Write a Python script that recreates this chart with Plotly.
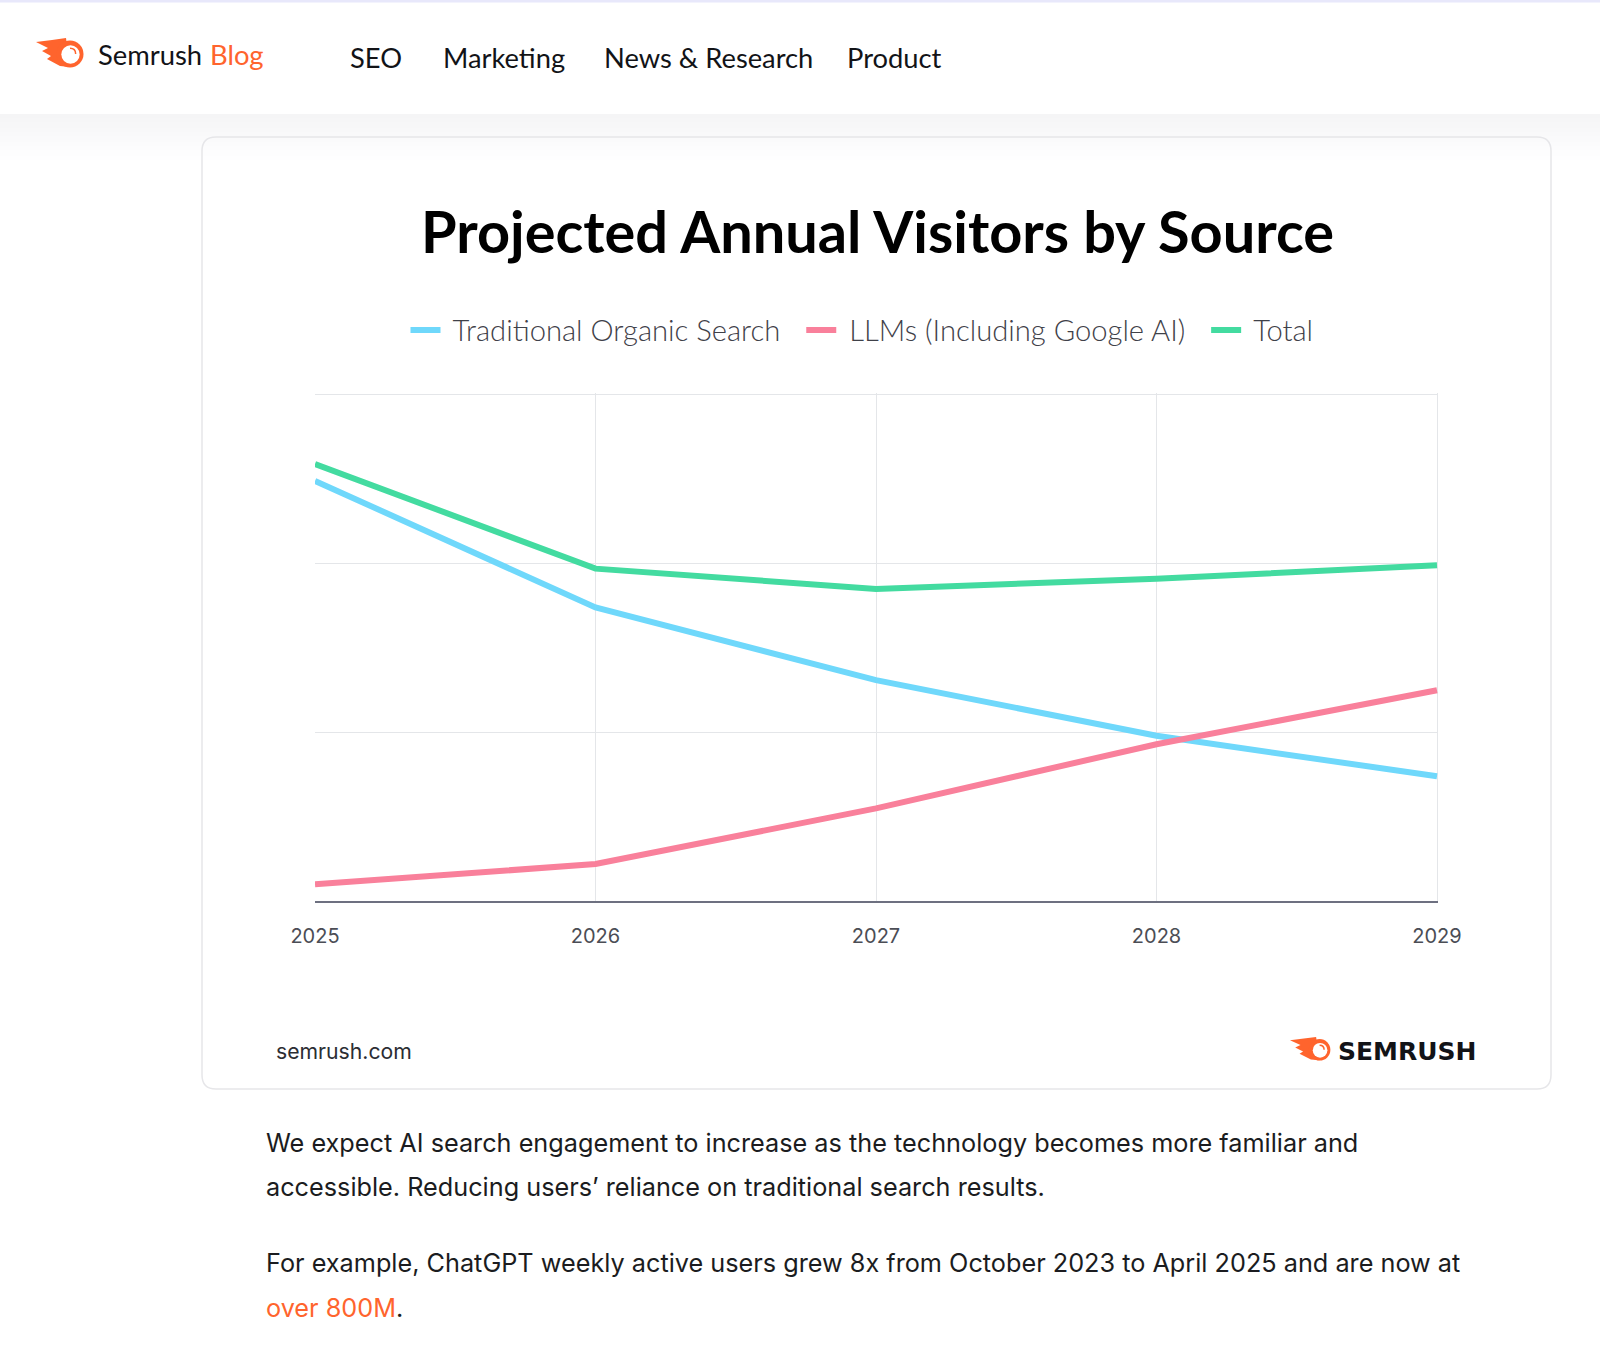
import plotly.graph_objects as go

W = 1600
H = 1354

years = [2025, 2026, 2027, 2028, 2029]
organic = [2.49, 1.74, 1.31, 0.98, 0.74]
llm = [0.10, 0.22, 0.55, 0.93, 1.25]
total = [2.59, 1.97, 1.85, 1.91, 1.99]

series_names = ['Traditional Organic Search', 'LLMs (Including Google AI)', 'Total']
series_colors = ['#6fd8fb', '#f9809b', '#43dba0']

nav_labels = ['SEO', 'Marketing', 'News &amp; Research', 'Product']
nav_x = [348, 441, 602, 844.5]

para_lines = [
    'We expect AI search engagement to increase as the technology becomes more familiar and',
    'accessible. Reducing users’ reliance on traditional search results.',
    'For example, ChatGPT weekly active users grew 8x from October 2023 to April 2025 and are now at',
    '<span style="color:#ff642d">over 800M</span>.',
]
para_y = [1143, 1187, 1263, 1308]

ORANGE = '#ff642d'
NBSP = '\u00a0'


def px(x):
    return x / W


def py(y):
    return 1 - y / H


def text(s, x, y, size, font='Lato', color='#121317', anchor='left', bold=False):
    return dict(text='<b>' + s + '</b>' if bold else s, x=px(x), y=py(y), xref='paper', yref='paper',
                xanchor=anchor, yanchor='middle', showarrow=False, align='left',
                font=dict(family=font, size=size, color=color))


def rect(x0, y0, x1, y1, color):
    return dict(type='rect', xref='paper', yref='paper', x0=px(x0), x1=px(x1), y0=py(y1), y1=py(y0),
                fillcolor=color, line_width=0, layer='below')


def pt(x, y):
    return f'{px(x):.5f},{py(y):.5f}'


def polygon(points, color):
    d = 'M' + 'L'.join(pt(a, b) for a, b in points) + 'Z'
    return dict(type='path', xref='paper', yref='paper', path=d, fillcolor=color,
                line=dict(color=color, width=0), layer='above')


def circle(cx, cy, r, fill):
    return dict(type='circle', xref='paper', yref='paper', x0=px(cx - r), x1=px(cx + r), y0=py(cy + r), y1=py(cy - r),
                fillcolor=fill, line=dict(color=fill, width=0), layer='above')


def rounded_card(x0, y0, x1, y1, r, color):
    d = ('M' + pt(x0 + r, y0) + 'L' + pt(x1 - r, y0) + 'Q' + pt(x1, y0) + ' ' + pt(x1, y0 + r)
         + 'L' + pt(x1, y1 - r) + 'Q' + pt(x1, y1) + ' ' + pt(x1 - r, y1)
         + 'L' + pt(x0 + r, y1) + 'Q' + pt(x0, y1) + ' ' + pt(x0, y1 - r)
         + 'L' + pt(x0, y0 + r) + 'Q' + pt(x0, y0) + ' ' + pt(x0 + r, y0) + 'Z')
    return dict(type='path', xref='paper', yref='paper', path=d, fillcolor='rgba(255,255,255,0)',
                line=dict(color=color, width=1.5), layer='below')


# logo: flame plus ring with the little highlight, sx/sy scale it
def logo(x, y, sx, sy):
    flame = [(0, 4), (16, 2), (30, 0), (34, 29), (24, 28), (11, 21), (15, 18), (6, 13), (12, 10)]
    cx, cy = x + 34 * sx, y + 16 * sy
    r = 13.5 * sy
    shp = [polygon([(x + a * sx, y + b * sy) for a, b in flame], ORANGE)]
    shp.append(circle(cx, cy, r, ORANGE))
    shp.append(circle(cx + 0.5, cy + 0.5, r * 0.68, 'white'))
    arc = 'M' + pt(cx, cy - r * 0.42) + 'Q' + pt(cx + r * 0.42, cy - r * 0.42) + ' ' + pt(cx + r * 0.42, cy)
    shp.append(dict(type='path', xref='paper', yref='paper', path=arc, fillcolor='rgba(0,0,0,0)',
                    line=dict(color=ORANGE, width=1.5), layer='above'))
    return shp


fig = go.Figure()
for name, vals, col in zip(series_names, [organic, llm, total], series_colors):
    # nbsp padding to open up the legend the way the reference has it
    fig.add_trace(go.Scatter(x=years, y=vals, name=NBSP + name + NBSP * 2, mode='lines', cliponaxis=False,
                             line=dict(color=col, width=6), hoverinfo='skip'))

shapes = [rect(0, 0, W, 2.5, '#e8e8fb')]
# soft grey fade under the header
for i in range(24):
    g = 245 + round(10 * i / 24)
    shapes.append(rect(0, 114 + i * 2, W, 116 + i * 2, f'rgb({g},{g},{min(g + 1, 255)})'))
shapes.append(rounded_card(202, 137, 1551, 1089, 14, '#e6e6e9'))
shapes += logo(36, 38, 1.0, 1.0)
shapes += logo(1290, 1037, 0.87, 0.8)

annotations = [
    text('Semrush', 96, 55, 27.4),
    text('Blog', 208, 55, 27.4, color=ORANGE),
    text('Projected Annual Visitors by Source', 877, 230, 57.7, bold=True, color='#000000', anchor='center'),
    text('semrush.com', 274, 1051, 21.2, font='Inter', color='#2b2d33'),
    text('SEMRUSH', 1336, 1051, 25, font='DejaVu Sans', color='#121317', bold=True),
]
for label, x in zip(nav_labels, nav_x):
    annotations.append(text(label, x, 57.5, 27.3))
for line, y in zip(para_lines, para_y):
    annotations.append(text(line, 263.5, y, 25.25, font='Inter', color='#1b1c20'))

fig.update_layout(
    width=W, height=H,
    margin=dict(l=0, r=0, t=0, b=0, autoexpand=False),
    paper_bgcolor='white', plot_bgcolor='rgba(0,0,0,0)',
    shapes=shapes, annotations=annotations,
    legend=dict(orientation='h', x=px(405.5), y=py(330), xanchor='left', yanchor='middle',
                font=dict(family='Lato', size=29.2, color='#3f4149', weight=300), itemwidth=30,
                bgcolor='rgba(0,0,0,0)'),
    # ranges run a hair past the last tick, plotly drops gridlines sitting exactly on the edge
    xaxis=dict(domain=[px(315), px(1438.4)], range=[2025, 2029.005], tickvals=years, showgrid=False, zeroline=False,
               showline=True, linecolor='#6d7080', linewidth=2, ticks='outside', ticklen=16,
               tickcolor='rgba(0,0,0,0)', tickfont=dict(family='Inter', size=20, color='#4b4d55'),
               minor=dict(tickvals=years[1:], showgrid=True, gridcolor='#e4e6e9', gridwidth=1)),
    yaxis=dict(domain=[py(901.2), py(393.1)], range=[0, 3.01], tickvals=[0, 1, 2, 3], showticklabels=False,
               showgrid=True, gridcolor='#e4e6e9', gridwidth=1, zeroline=False, showline=False),
)

fig.write_html('out.html', config={'displayModeBar': False}, post_script="document.body.style.margin='0';")
